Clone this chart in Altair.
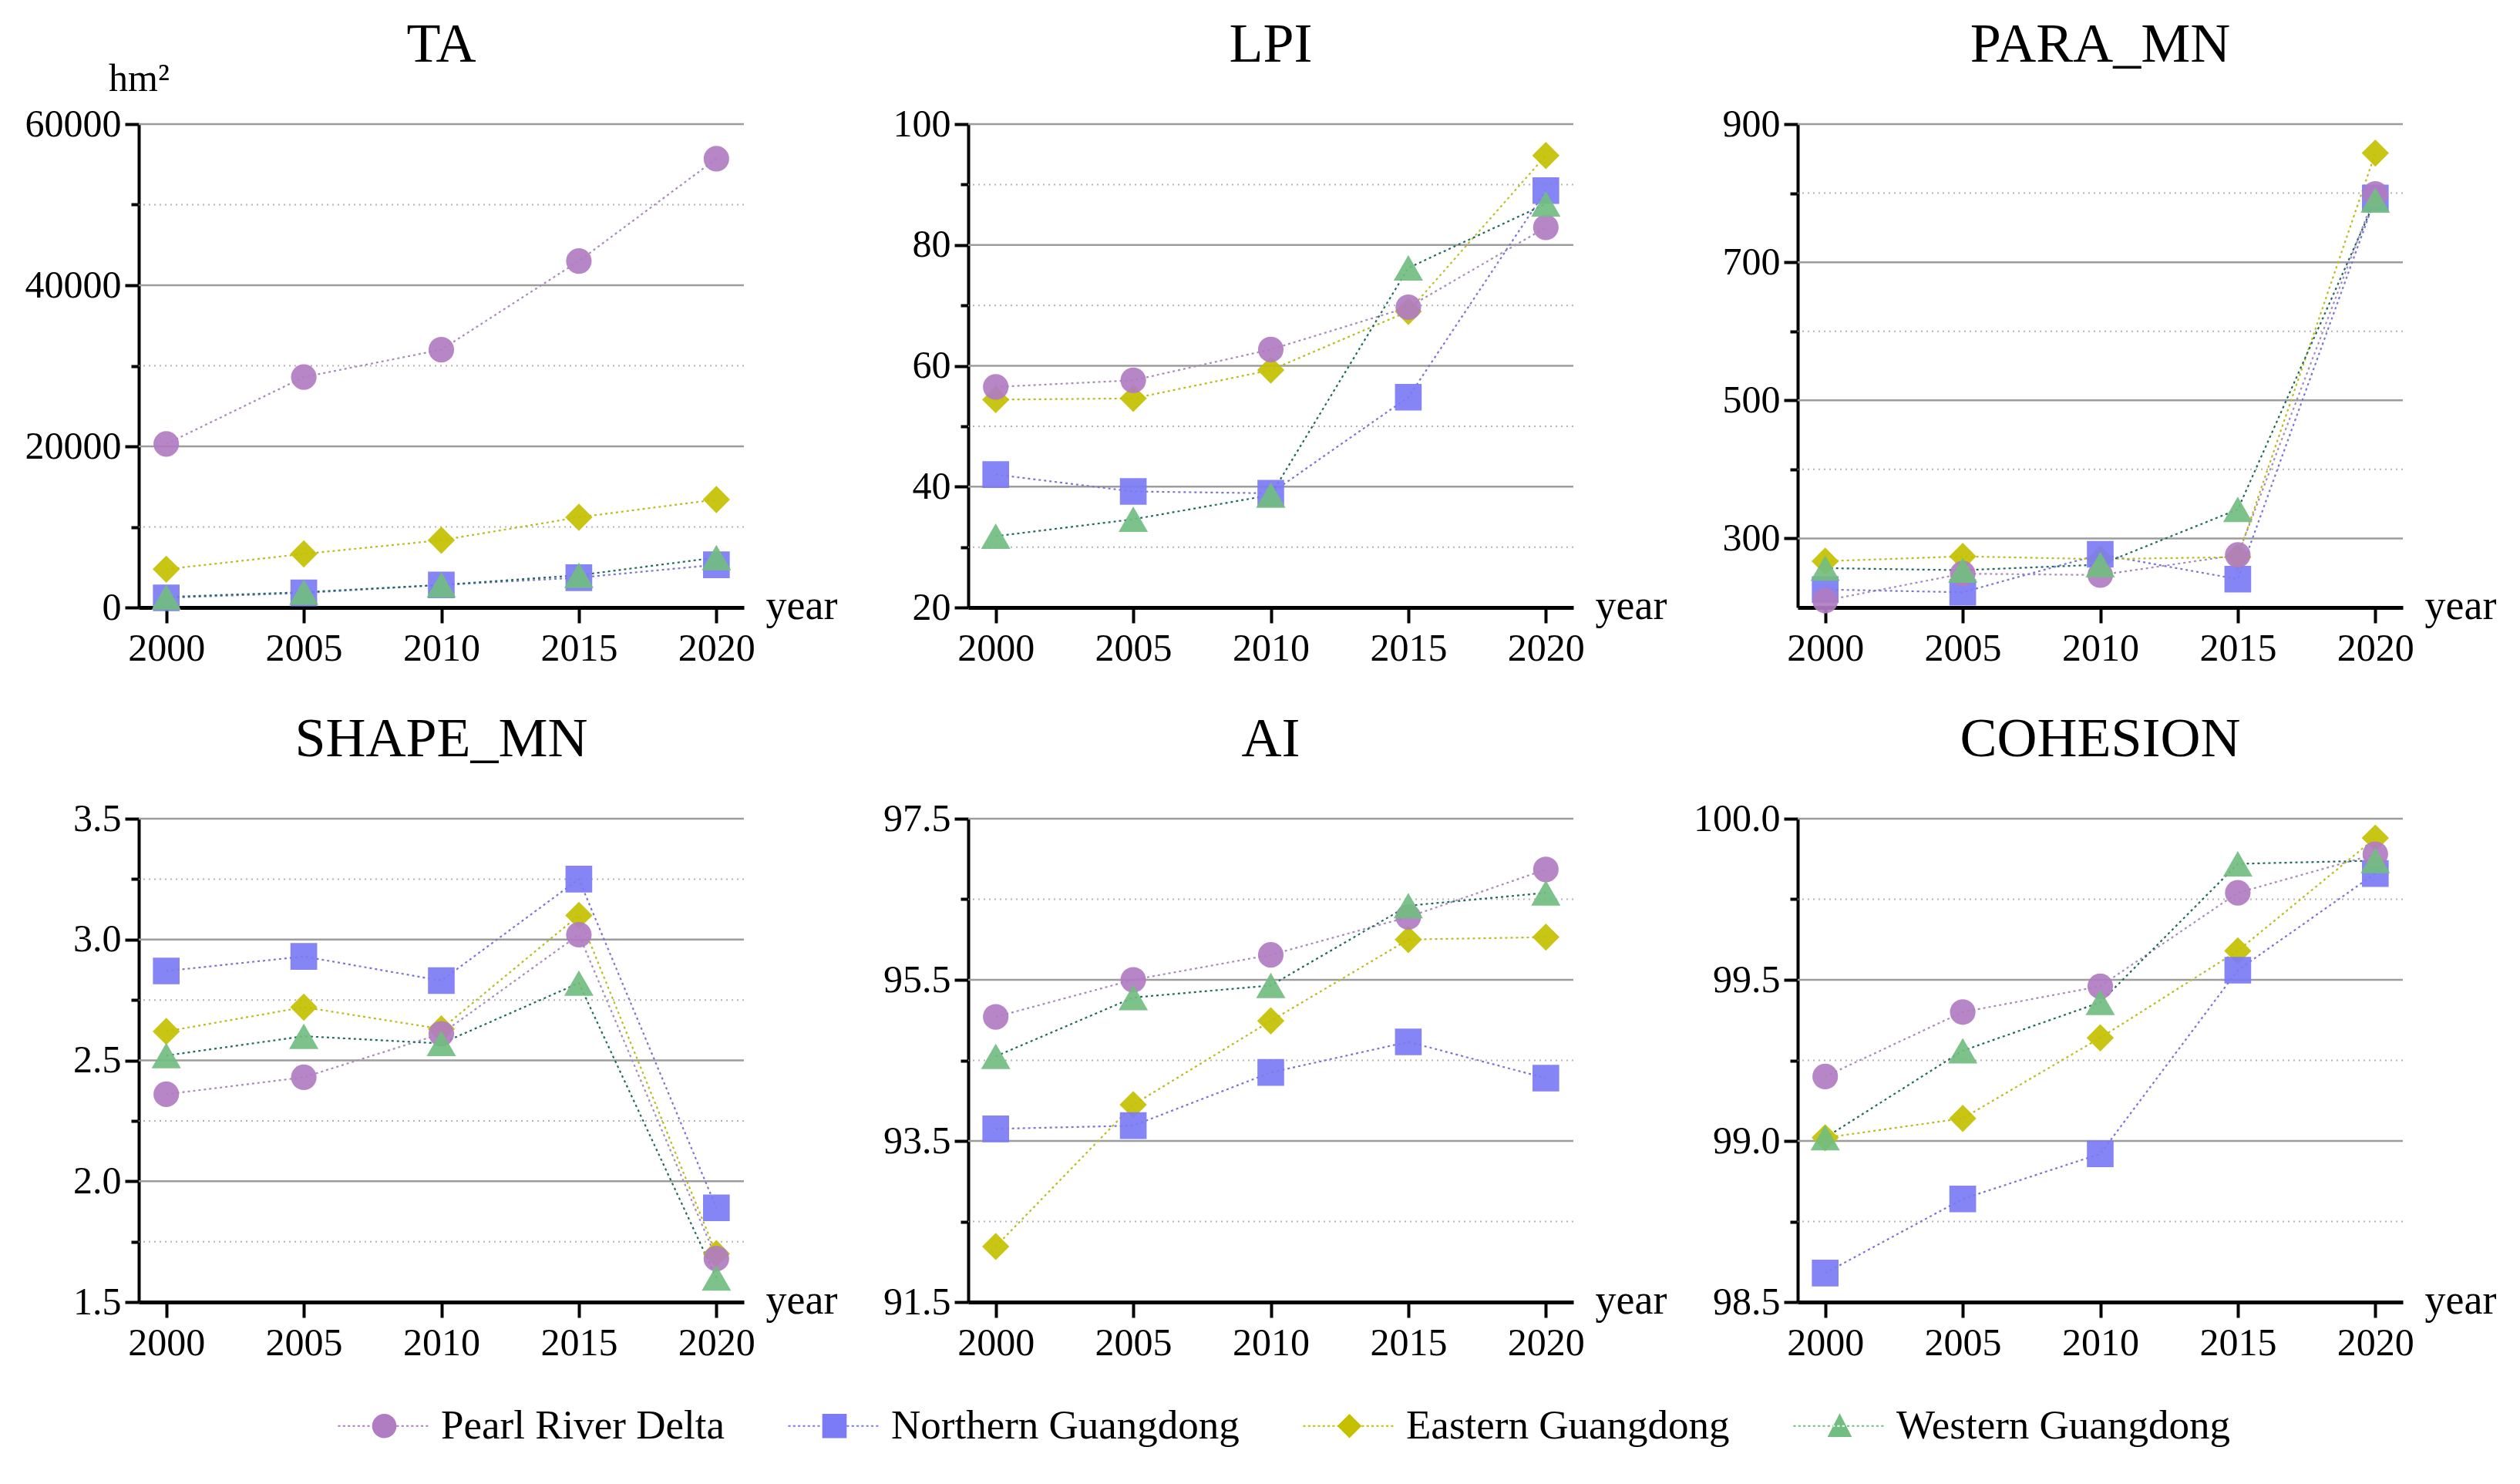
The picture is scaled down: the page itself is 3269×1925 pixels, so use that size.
import json
import altair as alt
import pandas as pd

SERIF = "Liberation Serif, Times New Roman, serif"

years = [2000, 2005, 2010, 2015, 2020]
series = ["Pearl River Delta", "Northern Guangdong", "Eastern Guangdong", "Western Guangdong"]

# ---- values ----
ta_prd = [20300, 28600, 32000, 43000, 55700]
ta_north = [1200, 1800, 2800, 3700, 5300]
ta_east = [4750, 6650, 8350, 11200, 13400]
ta_west = [1300, 1900, 2800, 4000, 6200]

lpi_prd = [56.5, 57.6, 62.7, 69.7, 82.9]
lpi_north = [42.0, 39.2, 38.9, 54.8, 89.0]
lpi_east = [54.4, 54.6, 59.3, 69.0, 94.8]
lpi_west = [31.8, 34.6, 38.6, 76.2, 86.8]

para_prd = [210, 249, 247, 276, 799]
para_north = [226, 222, 277, 241, 793]
para_east = [267, 274, 270, 273, 858]
para_west = [257, 254, 262, 342, 790]

shape_prd = [2.36, 2.43, 2.61, 3.02, 1.68]
shape_north = [2.87, 2.93, 2.83, 3.25, 1.89]
shape_east = [2.62, 2.72, 2.63, 3.10, 1.70]
shape_west = [2.52, 2.60, 2.57, 2.82, 1.60]

ai_prd = [95.04, 95.50, 95.81, 96.28, 96.87]
ai_north = [93.65, 93.69, 94.35, 94.73, 94.28]
ai_east = [92.19, 93.95, 94.99, 96.00, 96.03]
ai_west = [94.55, 95.28, 95.43, 96.42, 96.58]

coh_prd = [99.20, 99.40, 99.48, 99.77, 99.89]
coh_north = [98.59, 98.82, 98.96, 99.53, 99.83]
coh_east = [99.01, 99.07, 99.32, 99.59, 99.94]
coh_west = [99.01, 99.28, 99.43, 99.86, 99.87]

# panel definitions: title, per-series values, y domain, major ticks, minor ticks, format, unit
panels_def = [
    ("TA", [ta_prd, ta_north, ta_east, ta_west], [0, 60000],
     [0, 20000, 40000, 60000], [10000, 30000, 50000], "d", "hm\u00b2"),
    ("LPI", [lpi_prd, lpi_north, lpi_east, lpi_west], [20, 100],
     [20, 40, 60, 80, 100], [30, 50, 70, 90], "d", None),
    ("PARA_MN", [para_prd, para_north, para_east, para_west], [200, 900],
     [300, 500, 700, 900], [400, 600, 800], "d", None),
    ("SHAPE_MN", [shape_prd, shape_north, shape_east, shape_west], [1.5, 3.5],
     [1.5, 2.0, 2.5, 3.0, 3.5], [1.75, 2.25, 2.75, 3.25], ".1f", None),
    ("AI", [ai_prd, ai_north, ai_east, ai_west], [91.5, 97.5],
     [91.5, 93.5, 95.5, 97.5], [92.5, 94.5, 96.5], ".1f", None),
    ("COHESION", [coh_prd, coh_north, coh_east, coh_west], [98.5, 100.0],
     [98.5, 99.0, 99.5, 100.0], [98.75, 99.25, 99.75], ".1f", None),
]

# ---- styles ----
W, H = 785, 627
marker_shape = ["circle", "square", "diamond", "triangle-up"]
marker_size = [1100, 1200, 1250, 1450]
marker_color = ["#b07cc2", "#7b7bf5", "#c4c000", "#72bd80"]
line_color = ["#a98cbb", "#7a76d8", "#bcbc1e", "#1f6b60"]
draw_order = [2, 1, 0, 3]


def dotted_bar(half=3.8, seg=0.2, gap=0.2, th=0.06):
    parts = []
    x = -half
    while x < half - 1e-9:
        parts.append(f"M{x:.3f},{-th:.3f}h{seg:.3f}v{2 * th:.3f}h{-seg:.3f}Z")
        x += seg + gap
    return " ".join(parts)


bar = dotted_bar()
legend_paths = [
    "M1,0A1,1 0 1 1 -1,0A1,1 0 1 1 1,0Z " + bar,
    "M-1,-1H1V1H-1Z " + bar,
    "M-1,0L0,-1L1,0L0,1Z " + bar,
    "M0,-1.05L-1,0.9L1,0.9Z " + bar,
]


def make_panel(idx, title, vals, domain, majors, minors, fmt, unit):
    rows = []
    for s, v in zip(series, vals):
        for yr, val in zip(years, v):
            rows.append({"year": yr, "value": val, "series": s})
    df = pd.DataFrame(rows)

    maj_js = json.dumps(majors)
    yscale = alt.Scale(domain=domain, nice=False, zero=False)
    yaxis_kw = dict(
        values=sorted(majors + minors),
        labelExpr=f"indexof({maj_js}, datum.value) >= 0 ? datum.label : ''",
        format=fmt,
        grid=False,
        domainColor="black",
        domainWidth=4,
        tickColor="black",
        tickWidth=4,
        tickSize={"condition": {"test": f"indexof({maj_js}, datum.value) < 0", "value": 10}, "value": 18},
        labelFont=SERIF,
        labelFontSize=50,
        labelColor="black",
        labelPadding=5,
    )
    if unit:
        yaxis_kw.update(title=unit, titleAngle=0, titleX=0, titleY=-44, titleAlign="center",
                        titleBaseline="alphabetic", titleFont=SERIF, titleFontSize=50,
                        titleFontWeight="normal", titleColor="black")
    else:
        yaxis_kw.update(title=None)
    yaxis = alt.Axis(**yaxis_kw)

    xscale = alt.Scale(domain=[1999, 2021], nice=False, zero=False)
    xaxis = alt.Axis(values=years, format="d", grid=False, domainColor="black", domainWidth=5,
                     tickColor="black", tickWidth=4, tickSize=20, labelFont=SERIF,
                     labelFontSize=50, labelColor="black", labelPadding=8,
                     title="year", titleX=W + 28, titleY=14, titleAlign="left",
                     titleBaseline="alphabetic", titleFont=SERIF, titleFontSize=54,
                     titleFontWeight="normal", titleColor="black")

    grid_major = [m for m in majors if m != domain[0]]
    g_major = alt.Chart(pd.DataFrame({"v": grid_major})).mark_rule(
        color="#9c9c9c", strokeWidth=2.5).encode(y=alt.Y("v:Q", scale=yscale, axis=yaxis))
    g_minor = alt.Chart(pd.DataFrame({"v": minors})).mark_rule(
        color="#b4b4b4", strokeWidth=2, strokeDash=[2, 5]).encode(y=alt.Y("v:Q", scale=yscale, axis=yaxis))

    layers = [g_minor, g_major]
    for i in range(4):
        d = df[df["series"] == series[i]]
        layers.append(alt.Chart(d).mark_line(color=line_color[i], strokeWidth=2.2,
                                             strokeDash=[3, 4]).encode(
            x=alt.X("year:Q", scale=xscale, axis=xaxis),
            y=alt.Y("value:Q", scale=yscale, axis=yaxis)))
    for i in draw_order:
        d = df[df["series"] == series[i]]
        layers.append(alt.Chart(d).mark_point(filled=True, shape=marker_shape[i], size=marker_size[i],
                                              color=marker_color[i], opacity=0.92, strokeWidth=0).encode(
            x=alt.X("year:Q", scale=xscale, axis=xaxis),
            y=alt.Y("value:Q", scale=yscale, axis=yaxis)))

    layers.append(alt.Chart(pd.DataFrame({"t": [title]})).mark_text(
        font=SERIF, fontSize=72, align="center", baseline="alphabetic", color="black").encode(
        text="t:N", x=alt.value(W / 2), y=alt.value(-81)))

    if idx == 0:
        leg = alt.Legend(orient="none", legendX=292, legendY=1662, direction="horizontal",
                         columns=4, title=None, symbolSize=1000, symbolStrokeWidth=0,
                         labelFont=SERIF, labelFontSize=53, labelColor="black", labelLimit=0,
                         labelOffset=47, columnPadding=82, padding=0, symbolOpacity=1)
        layers.append(alt.Chart(pd.DataFrame({"series": series})).transform_filter("false").mark_point(
            filled=True, opacity=1).encode(
            color=alt.Color("series:N", scale=alt.Scale(domain=series, range=marker_color), legend=leg),
            shape=alt.Shape("series:N", scale=alt.Scale(domain=series, range=legend_paths), legend=leg)))

    return alt.layer(*layers).properties(width=W, height=H)


panels = [make_panel(i, *p) for i, p in enumerate(panels_def)]

chart = alt.concat(*panels, columns=3, spacing={"row": 274, "column": 291}, bounds="flush").properties(
    padding={"left": 24, "top": 14, "right": 10, "bottom": 10},
    background="white",
).configure_view(stroke=None)

chart.save("out.html", embed_options={"renderer": "svg", "actions": False})
